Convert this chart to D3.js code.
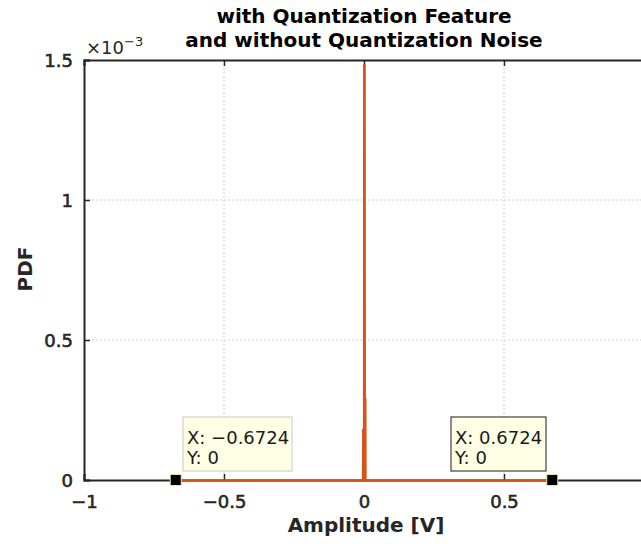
<!DOCTYPE html>
<html><head><meta charset="utf-8">
<script src="https://cdn.jsdelivr.net/npm/d3@7"></script>
<style>body{margin:0;background:#fff}svg{display:block}text{font-family:"DejaVu Sans",sans-serif}</style>
</head><body><svg id="c" width="641" height="544"></svg>
<script>
const titleLines = ["with Quantization Feature", "and without Quantization Noise"];
const xTicks = [-1, -0.5, 0, 0.5];
const yTicks = [0, 0.5e-3, 1e-3, 1.5e-3];
const yTickLabels = ["0", "0.5", "1", "1.5"];
const pdfX = [-0.6724, -0.003, -0.0025, -0.0015, -0.001, 0.0005, 0.001, 0.002, 0.0025, 0.0045, 0.005, 0.0065, 0.007, 0.6724];
const pdfY = [0, 0, 0.00018, 0.00018, 0, 0, 0.00148, 0.00148, 0.00029, 0.00029, 0, 0, 0, 0];
const tips = [{x: -0.6724, y: 0, label: ["X: \u22120.6724", "Y: 0"]}, {x: 0.6724, y: 0, label: ["X: 0.6724", "Y: 0"]}];

const svg = d3.select("#c");
const L = 84, R = 644, T = 60, B = 480;
const x = d3.scaleLinear().domain([-1, 1]).range([L, R]);
const y = d3.scaleLinear().domain([0, 1.5e-3]).range([B, T]);
const axisCol = "#262626";

// grid
svg.append("g").selectAll("line").data(xTicks.filter(d => d > -1)).join("line")
  .attr("x1", d => x(d)).attr("x2", d => x(d)).attr("y1", T).attr("y2", B)
  .attr("stroke", "#d0d0d0").attr("stroke-width", 1).attr("stroke-dasharray", "2,2");
svg.append("g").selectAll("line").data(yTicks.filter(d => d > 0 && d < 1.5e-3)).join("line")
  .attr("x1", L).attr("x2", R).attr("y1", d => y(d)).attr("y2", d => y(d))
  .attr("stroke", "#d0d0d0").attr("stroke-width", 1).attr("stroke-dasharray", "2,2");

// axes
const fmtX = d => d === 0 ? "0" : (d < 0 ? "\u2212" + Math.abs(d) : String(d));
const xb = svg.append("g").attr("transform", `translate(0,${B})`)
  .call(d3.axisBottom(x).tickValues(xTicks).tickSize(-6).tickPadding(15).tickFormat(fmtX));
const xt = svg.append("g").attr("transform", `translate(0,${T})`)
  .call(d3.axisTop(x).tickValues(xTicks).tickSize(-6).tickFormat(""));
const yl = svg.append("g").attr("transform", `translate(${L},0)`)
  .call(d3.axisLeft(y).tickValues(yTicks).tickSize(-6).tickPadding(11).tickFormat((d, i) => yTickLabels[i]));
[xb, xt, yl].forEach(g => {
  g.select(".domain").attr("stroke", axisCol).attr("stroke-width", 2);
  g.selectAll(".tick line").attr("stroke", axisCol).attr("stroke-width", 1.5);
  g.selectAll("text").attr("fill", "#262626").attr("stroke", "#262626").attr("stroke-width", 0.6)
    .style("font-size", "18px");
});
yl.selectAll("text").attr("dy", "0.36em");

// exponent
const ex = svg.append("text").attr("x", 86).attr("y", 54).attr("fill", "#262626").style("font-size", "18px");
ex.append("tspan").text("\u00d710");
ex.append("tspan").attr("dy", -8).style("font-size", "13px").text("\u22123");

// line
svg.append("path").datum(pdfX.map((d, i) => [d, pdfY[i]]))
  .attr("fill", "none").attr("stroke", "#d95319").attr("stroke-width", 2.5)
  .attr("d", d3.line().x(d => x(d[0])).y(d => y(d[1]) + 0.5));

// data tips
const boxes = [{x0: 183, w: 109, border: "#c8c8c8"}, {x0: 451, w: 95, border: "#1a1a1a"}];
tips.forEach((t, i) => {
  const b = boxes[i];
  svg.append("rect").attr("x", b.x0).attr("y", 417).attr("width", b.w).attr("height", 54)
    .attr("fill", "#ffffe6").attr("stroke", b.border).attr("stroke-width", 1);
  t.label.forEach((s, j) => svg.append("text").attr("x", b.x0 + 4).attr("y", 444 + j * 20)
    .attr("fill", "#1a1a1a").style("font-size", "18px").text(s));
  svg.append("rect").attr("x", x(t.x) - 5.5).attr("y", y(t.y) - 5.5).attr("width", 11).attr("height", 11)
    .attr("fill", "#000").attr("stroke", "#e8e4b0").attr("stroke-width", 1);
});

// titles
titleLines.forEach((s, i) => svg.append("text").attr("x", 364).attr("y", 23 + i * 24)
  .attr("text-anchor", "middle").attr("fill", "#000").style("font-size", "20px").style("font-weight", "bold").text(s));
svg.append("text").attr("x", 366).attr("y", 532).attr("text-anchor", "middle").attr("fill", "#262626")
  .style("font-size", "20px").style("font-weight", "bold").text("Amplitude [V]");
svg.append("text").attr("transform", "translate(32,269) rotate(-90)").attr("text-anchor", "middle").attr("fill", "#262626")
  .style("font-size", "20px").style("font-weight", "bold").text("PDF");
</script></body></html>
